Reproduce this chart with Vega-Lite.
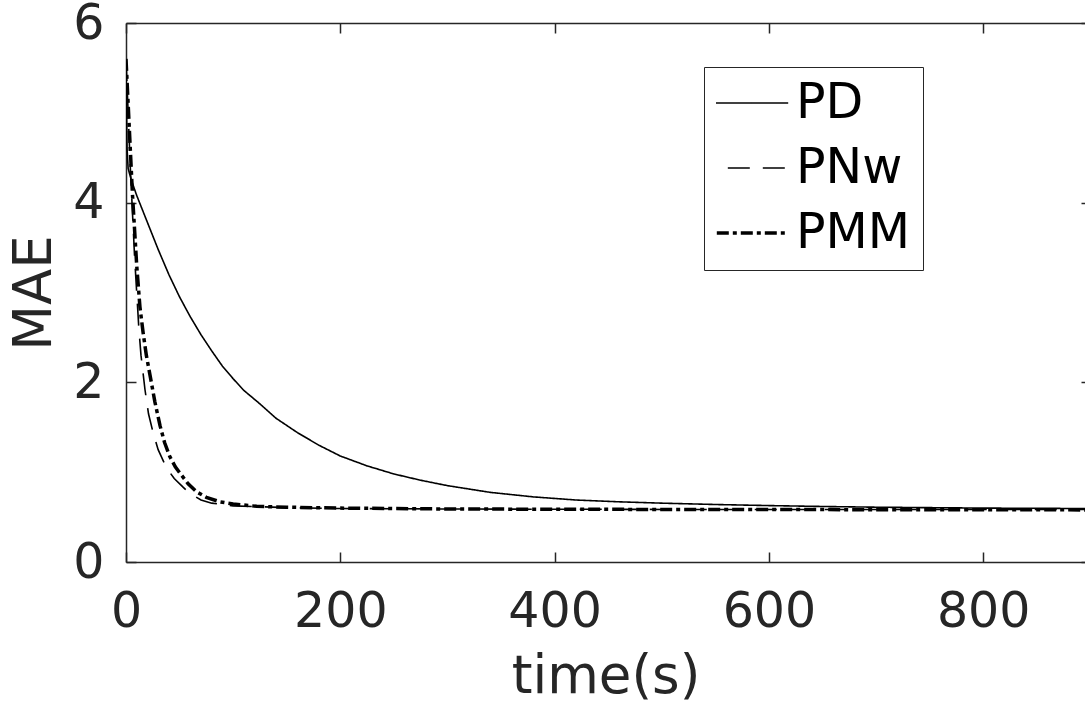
{
  "$schema": "https://vega.github.io/schema/vega-lite/v6.json",
  "autosize": {"type": "none"},
  "width": 959,
  "height": 539,
  "padding": {"left": 126, "top": 23, "right": 0, "bottom": 145},
  "background": "white",
  "config": {
    "view": {"stroke": null},
    "font": "DejaVu Sans",
    "axis": {
      "labelFont": "DejaVu Sans",
      "titleFont": "DejaVu Sans",
      "labelFontSize": 49,
      "titleFontSize": 53,
      "labelColor": "#262626",
      "titleColor": "#262626",
      "titleFontWeight": "normal",
      "domainColor": "#262626",
      "tickColor": "#262626",
      "domainWidth": 1.5,
      "tickWidth": 1.5,
      "labelFlush": false,
      "labelOverlap": false,
      "grid": false
    },
    "legend": {
      "orient": "none",
      "legendX": 578,
      "legendY": 44,
      "symbolType": "stroke",
      "symbolSize": 5929,
      "symbolStrokeWidth": 1.6,
      "symbolStrokeColor": "black",
      "labelFont": "DejaVu Sans",
      "labelFontSize": 49,
      "labelColor": "black",
      "labelOffset": 31,
      "rowPadding": 16,
      "clipHeight": 48,
      "padding": 12,
      "strokeColor": "#262626",
      "fillColor": "white"
    }
  },
  "data": {
    "values": [
      {"method": "PD", "t": 0, "mae": 5.5},
      {"method": "PD", "t": 1, "mae": 4.6},
      {"method": "PD", "t": 2, "mae": 4.38},
      {"method": "PD", "t": 5, "mae": 4.25},
      {"method": "PD", "t": 10, "mae": 4.08},
      {"method": "PD", "t": 20, "mae": 3.78},
      {"method": "PD", "t": 30, "mae": 3.48},
      {"method": "PD", "t": 40, "mae": 3.2},
      {"method": "PD", "t": 50, "mae": 2.95},
      {"method": "PD", "t": 60, "mae": 2.73},
      {"method": "PD", "t": 70, "mae": 2.53},
      {"method": "PD", "t": 80, "mae": 2.35},
      {"method": "PD", "t": 90, "mae": 2.18},
      {"method": "PD", "t": 100, "mae": 2.04},
      {"method": "PD", "t": 110, "mae": 1.91},
      {"method": "PD", "t": 125, "mae": 1.76},
      {"method": "PD", "t": 140, "mae": 1.6},
      {"method": "PD", "t": 160, "mae": 1.44},
      {"method": "PD", "t": 180, "mae": 1.3},
      {"method": "PD", "t": 200, "mae": 1.18},
      {"method": "PD", "t": 225, "mae": 1.07},
      {"method": "PD", "t": 250, "mae": 0.98},
      {"method": "PD", "t": 275, "mae": 0.91},
      {"method": "PD", "t": 300, "mae": 0.85},
      {"method": "PD", "t": 340, "mae": 0.775},
      {"method": "PD", "t": 380, "mae": 0.725},
      {"method": "PD", "t": 420, "mae": 0.69},
      {"method": "PD", "t": 460, "mae": 0.67},
      {"method": "PD", "t": 500, "mae": 0.655},
      {"method": "PD", "t": 550, "mae": 0.64},
      {"method": "PD", "t": 600, "mae": 0.628},
      {"method": "PD", "t": 650, "mae": 0.618},
      {"method": "PD", "t": 700, "mae": 0.61},
      {"method": "PD", "t": 800, "mae": 0.6},
      {"method": "PD", "t": 900, "mae": 0.595},
      {"method": "PNw", "t": 0, "mae": 5.6},
      {"method": "PNw", "t": 2, "mae": 5.0},
      {"method": "PNw", "t": 4, "mae": 4.4},
      {"method": "PNw", "t": 6, "mae": 3.9},
      {"method": "PNw", "t": 8, "mae": 3.4},
      {"method": "PNw", "t": 10, "mae": 3.0},
      {"method": "PNw", "t": 12, "mae": 2.6},
      {"method": "PNw", "t": 14, "mae": 2.3},
      {"method": "PNw", "t": 17.7, "mae": 1.92},
      {"method": "PNw", "t": 21, "mae": 1.65},
      {"method": "PNw", "t": 25.5, "mae": 1.43},
      {"method": "PNw", "t": 30, "mae": 1.25},
      {"method": "PNw", "t": 35, "mae": 1.12},
      {"method": "PNw", "t": 39.5, "mae": 1.02},
      {"method": "PNw", "t": 45, "mae": 0.93},
      {"method": "PNw", "t": 53.5, "mae": 0.83},
      {"method": "PNw", "t": 60, "mae": 0.76},
      {"method": "PNw", "t": 70, "mae": 0.69},
      {"method": "PNw", "t": 80, "mae": 0.655},
      {"method": "PNw", "t": 100, "mae": 0.625},
      {"method": "PNw", "t": 150, "mae": 0.605},
      {"method": "PNw", "t": 200, "mae": 0.595},
      {"method": "PNw", "t": 300, "mae": 0.59},
      {"method": "PNw", "t": 500, "mae": 0.585},
      {"method": "PNw", "t": 900, "mae": 0.585},
      {"method": "PMM", "t": 0, "mae": 5.6},
      {"method": "PMM", "t": 2, "mae": 5.1},
      {"method": "PMM", "t": 4, "mae": 4.6},
      {"method": "PMM", "t": 6, "mae": 4.1},
      {"method": "PMM", "t": 8, "mae": 3.7},
      {"method": "PMM", "t": 10, "mae": 3.3},
      {"method": "PMM", "t": 13, "mae": 2.84},
      {"method": "PMM", "t": 16, "mae": 2.55},
      {"method": "PMM", "t": 19, "mae": 2.3},
      {"method": "PMM", "t": 22.4, "mae": 2.08},
      {"method": "PMM", "t": 27, "mae": 1.78},
      {"method": "PMM", "t": 31.7, "mae": 1.52},
      {"method": "PMM", "t": 36, "mae": 1.33},
      {"method": "PMM", "t": 41, "mae": 1.17},
      {"method": "PMM", "t": 46, "mae": 1.06},
      {"method": "PMM", "t": 50.3, "mae": 0.99},
      {"method": "PMM", "t": 58, "mae": 0.87},
      {"method": "PMM", "t": 66, "mae": 0.78},
      {"method": "PMM", "t": 75, "mae": 0.72},
      {"method": "PMM", "t": 87.6, "mae": 0.67},
      {"method": "PMM", "t": 100, "mae": 0.645},
      {"method": "PMM", "t": 122, "mae": 0.62},
      {"method": "PMM", "t": 150, "mae": 0.61},
      {"method": "PMM", "t": 200, "mae": 0.6},
      {"method": "PMM", "t": 300, "mae": 0.59},
      {"method": "PMM", "t": 500, "mae": 0.585},
      {"method": "PMM", "t": 900, "mae": 0.58}
    ]
  },
  "layer": [
    {
      "mark": {"type": "line", "clip": true, "color": "black", "strokeCap": "butt"},
      "encoding": {
        "x": {
          "field": "t", "type": "quantitative",
          "scale": {"domain": [0, 895], "nice": false, "zero": false},
          "axis": {"orient": "bottom", "title": "time(s)", "values": [0, 200, 400, 600, 800],
                   "tickSize": -10, "labelPadding": 35, "labelBaseline": "top",
                   "titleBaseline": "alphabetic", "titleY": 130, "titleAnchor": "middle"}
        },
        "y": {
          "field": "mae", "type": "quantitative",
          "scale": {"domain": [0, 6], "nice": false},
          "axis": {"orient": "left", "title": "MAE", "values": [0, 2, 4, 6],
                   "tickSize": -10, "labelPadding": 32,
                   "titleBaseline": "alphabetic", "titleX": -76, "titleAngle": -90, "titleAnchor": "middle"}
        },
        "strokeDash": {
          "field": "method", "type": "nominal",
          "scale": {"domain": ["PD", "PNw", "PMM"], "range": [[1, 0], [22, 13], [12, 4, 4, 4]]},
          "legend": {
            "title": null,
            "symbolSize": 5929,
            "encode": {
              "symbols": {
                "update": {
                  "size": {"value": 9100},
                  "strokeWidth": {"signal": "datum.value === 'PMM' ? 3.5 : 1.6"}
                }
              }
            }
          }
        },
        "strokeWidth": {
          "condition": {"test": "datum.method === 'PMM'", "value": 3.5},
          "value": 1.6
        }
      }
    },
    {
      "mark": {"type": "line", "opacity": 0},
      "encoding": {
        "x": {
          "field": "t", "type": "quantitative",
          "axis": {"orient": "top", "title": null, "labels": false, "values": [0, 200, 400, 600, 800],
                   "tickSize": -10}
        },
        "y": {
          "field": "mae", "type": "quantitative",
          "axis": {"orient": "right", "title": null, "labels": false, "domain": false, "values": [0, 2, 4, 6],
                   "tickSize": -4}
        },
        "detail": {"field": "method", "type": "nominal"}
      }
    }
  ],
  "resolve": {"axis": {"x": "independent", "y": "independent"}}
}
